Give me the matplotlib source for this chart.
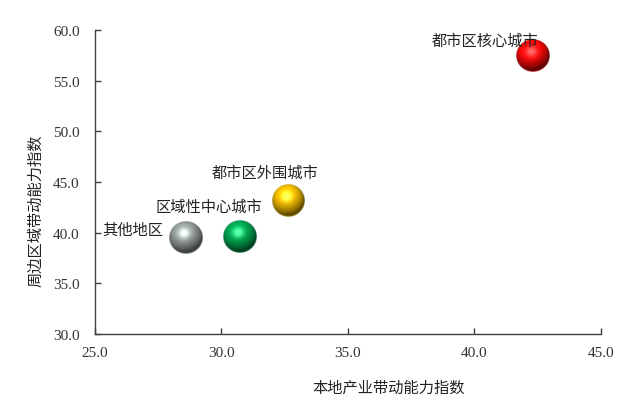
import numpy as np
import matplotlib
matplotlib.use("Agg")
import matplotlib.pyplot as plt

plt.rcParams['font.family'] = ['Noto Sans CJK SC', 'DejaVu Sans']

# data
names = ["其他地区", "区域性中心城市", "都市区外围城市", "都市区核心城市"]
local_index = [28.56, 30.73, 32.63, 42.31]      # 本地产业带动能力指数
region_index = [39.5, 39.6, 43.2, 57.5]         # 周边区域带动能力指数
ball_colors = ["#98a29e", "#00aa52", "#f7c000", "#ff0a0a"]

xticks = [25.0, 30.0, 35.0, 40.0, 45.0]
yticks = [30.0, 35.0, 40.0, 45.0, 50.0, 55.0, 60.0]


def sphere_image(hex_color, n=120):
    """RGBA texture of a shaded ball"""
    base = np.array(matplotlib.colors.to_rgb(hex_color))
    v, u = np.mgrid[1:-1:n*1j, -1:1:n*1j]
    r2 = u**2 + v**2
    nz = np.sqrt(np.clip(1 - r2, 0, 1))
    light = np.array([-0.2, 0.5, 0.84])
    light = light / np.linalg.norm(light)
    diff = np.clip(u*light[0] + v*light[1] + nz*light[2], 0, 1)
    half = light + np.array([0, 0, 1.0])
    half = half / np.linalg.norm(half)
    spec = np.clip(u*half[0] + v*half[1] + nz*half[2], 0, 1) ** 18
    rgb = base[None, None, :] * (0.35 + 0.75*diff[..., None])
    rgb = rgb + 0.4*spec[..., None]
    # a touch of rim light at the bottom edge
    rim = np.clip((r2 - 0.75) / 0.25, 0, 1) * np.clip(-v, 0, 1)
    rgb = rgb + 0.3*rim[..., None]*base[None, None, :]
    rgb = np.clip(rgb, 0, 1)
    alpha = np.clip((1 - np.sqrt(r2)) * n / 2.5, 0, 1)
    return np.dstack([rgb, alpha])


fig = plt.figure(figsize=(6.27, 4.06), dpi=100)
ax = fig.add_axes([0.1515, 0.1749, 0.8070, 0.7487])

ax.set_xlim(25, 45)
ax.set_ylim(30, 60)
ax.set_xticks(xticks)
ax.set_yticks(yticks)
ax.set_xticklabels([f"{t:.1f}" for t in xticks])
ax.set_yticklabels([f"{t:.1f}" for t in yticks])
for lab in ax.get_xticklabels() + ax.get_yticklabels():
    lab.set_fontfamily('Liberation Serif')
    lab.set_fontsize(11)
    lab.set_color('#333333')
ax.tick_params(direction='in', length=4, width=1, color='#404040')
ax.tick_params(axis='x', pad=9)
ax.tick_params(axis='y', pad=11)

for side in ['top', 'right']:
    ax.spines[side].set_visible(False)
for side in ['left', 'bottom']:
    ax.spines[side].set_color('#404040')
    ax.spines[side].set_linewidth(1)

# balls drawn as shaded textures, radius in pixels
rad_px = 16.5
for x, y, c in zip(local_index, region_index, ball_colors):
    cx, cy = ax.transData.transform((x, y))
    inv = ax.transData.inverted()
    x0, y0 = inv.transform((cx - rad_px, cy - rad_px))
    x1, y1 = inv.transform((cx + rad_px, cy + rad_px))
    ax.imshow(sphere_image(c), extent=[x0, x1, y0, y1], origin='upper',
              aspect='auto', zorder=3, interpolation='bilinear')
ax.set_xlim(25, 45)
ax.set_ylim(30, 60)

# point labels
label_offsets = [(-22, 8, 'right'), (-31, 30, 'center'), (-23, 28, 'center'), (-48, 15, 'center')]
for name, x, y, (dx, dy, ha) in zip(names, local_index, region_index, label_offsets):
    ax.annotate(name, (x, y), xytext=(dx, dy), textcoords='offset pixels',
                ha=ha, va='center', fontsize=11, color='#222222', zorder=4)

ax.set_xlabel("本地产业带动能力指数", fontsize=11, color='#222222')
ax.set_ylabel("周边区域带动能力指数", fontsize=11, color='#222222')
ax.xaxis.set_label_coords(0.581, -0.148)
ax.yaxis.set_label_coords(-0.1008, 0.41)

fig.savefig("out.png", dpi=100)
